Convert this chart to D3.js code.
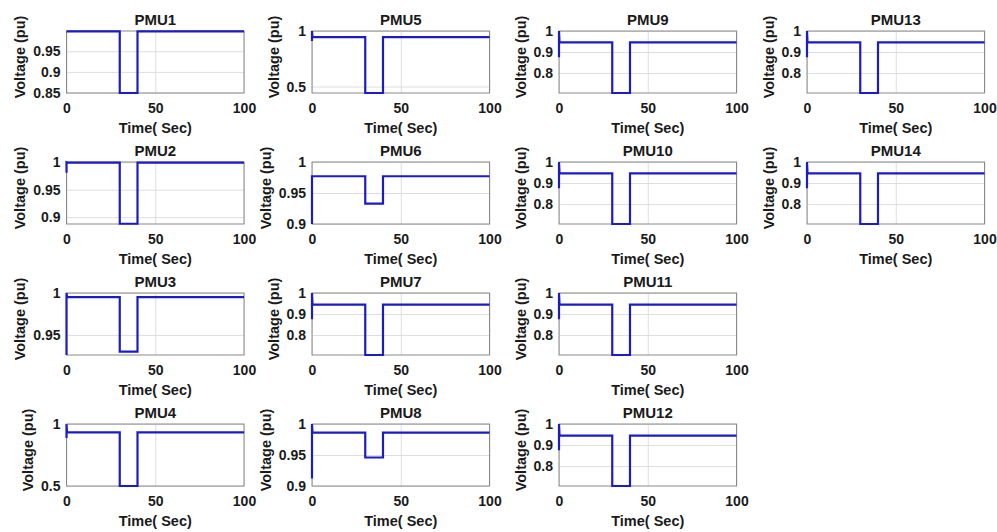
<!DOCTYPE html>
<html>
<head>
<meta charset="utf-8">
<script src="https://cdn.jsdelivr.net/npm/d3@7"></script>
<style>
  html, body { margin: 0; padding: 0; background: #fff; }
  svg text { font-family: "Liberation Sans", Arial, sans-serif; font-weight: bold; fill: #1a1a1a; }
</style>
</head>
<body>
<svg id="chart" width="997" height="532"></svg>
<script>
// ---- data ----
const pmuNames   = ["PMU1","PMU2","PMU3","PMU4","PMU5","PMU6","PMU7","PMU8","PMU9","PMU10","PMU11","PMU12","PMU13","PMU14"];
const startLow   = [0.998, 0.981, 0.926, 0.887, 0.910, 0.900, 0.875, 0.912, 0.875, 0.875, 0.875, 0.875, 0.875, 0.875];
const startHigh  = [0.998, 1.000, 1.000, 1.000, 1.000, 0.977, 1.000, 1.000, 1.000, 1.000, 1.000, 1.000, 1.000, 1.000];
const steadyV    = [0.998, 0.9995, 0.995, 0.932, 0.945, 0.977, 0.945, 0.986, 0.946, 0.946, 0.945, 0.945, 0.946, 0.946];
const dipV       = [0.849, 0.888, 0.930, 0.500, 0.442, 0.933, 0.705, 0.946, 0.705, 0.705, 0.705, 0.705, 0.705, 0.705];
const yMinV      = [0.849, 0.8875, 0.926, 0.500, 0.442, 0.900, 0.705, 0.900, 0.705, 0.705, 0.705, 0.705, 0.705, 0.705];
const yMaxV      = [0.999, 1.0005, 1.000, 1.000, 1.000, 1.000, 1.000, 1.000, 1.000, 1.000, 1.000, 1.000, 1.000, 1.000];
const yTickVals  = [
  [0.85, 0.9, 0.95], [0.9, 0.95, 1], [0.95, 1], [0.5, 1],
  [0.5, 1], [0.9, 0.95, 1], [0.8, 0.9, 1], [0.9, 0.95, 1],
  [0.8, 0.9, 1], [0.8, 0.9, 1], [0.8, 0.9, 1], [0.8, 0.9, 1],
  [0.8, 0.9, 1], [0.8, 0.9, 1]
];
const faultStart = 30, faultEnd = 40, tEnd = 100;
const xTickVals = [0, 50, 100];
const xLabel = "Time( Sec)";
const yLabel = "Voltage (pu)";

// ---- layout ----
const colLeft = [66.5, 312, 559, 807];
const plotW = 177.5;
const rowTop = [31, 162, 293, 424];
const plotH = 62;
const lineColor = "#1c1cc4";

const svg = d3.select("#chart");

pmuNames.forEach((name, i) => {
  const col = Math.floor(i / 4), row = i % 4;
  const left = colLeft[col], top = rowTop[row];
  const g = svg.append("g").attr("transform", `translate(${left},${top})`);

  const x = d3.scaleLinear().domain([0, tEnd]).range([0, plotW]);
  const y = d3.scaleLinear().domain([yMinV[i], yMaxV[i]]).range([plotH, 0]);

  // grid
  g.append("g").attr("transform", `translate(0,${plotH})`)
    .call(d3.axisBottom(x).tickValues(xTickVals).tickSize(-plotH).tickFormat(""))
    .call(s => s.select(".domain").remove())
    .call(s => s.selectAll("line").attr("stroke", "#dedede"));
  g.append("g")
    .call(d3.axisLeft(y).tickValues(yTickVals[i]).tickSize(-plotW).tickFormat(""))
    .call(s => s.select(".domain").remove())
    .call(s => s.selectAll("line").attr("stroke", "#dedede"));

  // box
  g.append("rect").attr("x", 0).attr("y", 0).attr("width", plotW).attr("height", plotH)
    .attr("fill", "none").attr("stroke", "#8a8a8a").attr("stroke-width", 1);

  // tick labels
  const xa = g.append("g").attr("transform", `translate(0,${plotH})`)
    .call(d3.axisBottom(x).tickValues(xTickVals).tickSize(0).tickPadding(10).tickFormat(d3.format("d")));
  xa.select(".domain").remove();
  xa.selectAll("text").style("font-size", "14px").style("font-family", "Liberation Sans, Arial, sans-serif").style("font-weight", "bold").attr("fill", "#1a1a1a");

  const ya = g.append("g")
    .call(d3.axisLeft(y).tickValues(yTickVals[i]).tickSize(0).tickPadding(6).tickFormat(d => String(+d.toFixed(2))));
  ya.select(".domain").remove();
  ya.selectAll("text").style("font-size", "14px").style("font-family", "Liberation Sans, Arial, sans-serif").style("font-weight", "bold").attr("fill", "#1a1a1a");

  let maxW = 0;
  ya.selectAll("text").each(function() { maxW = Math.max(maxW, this.getComputedTextLength()); });

  // line data
  const pts = [
    [0, startLow[i]], [0, startHigh[i]], [0.3, steadyV[i]],
    [faultStart, steadyV[i]], [faultStart, dipV[i]],
    [faultEnd, dipV[i]], [faultEnd, steadyV[i]], [tEnd, steadyV[i]]
  ];
  g.append("path").datum(pts)
    .attr("fill", "none").attr("stroke", lineColor).attr("stroke-width", 2.2)
    .attr("stroke-linejoin", "miter")
    .attr("d", d3.line().x(d => x(d[0])).y(d => y(d[1])));

  // title
  g.append("text").attr("x", plotW / 2).attr("y", -6).attr("text-anchor", "middle")
    .style("font-size", "15px").text(name);

  // x label
  g.append("text").attr("x", plotW / 2).attr("y", plotH + 40).attr("text-anchor", "middle")
    .style("font-size", "14.5px").text(xLabel);

  // y label
  const ylx = -6 - maxW - 8;
  g.append("text").attr("transform", `translate(${ylx},${plotH / 2 - 5}) rotate(-90)`)
    .attr("text-anchor", "middle")
    .style("font-size", "14.5px").text(yLabel);
});
</script>
</body>
</html>
